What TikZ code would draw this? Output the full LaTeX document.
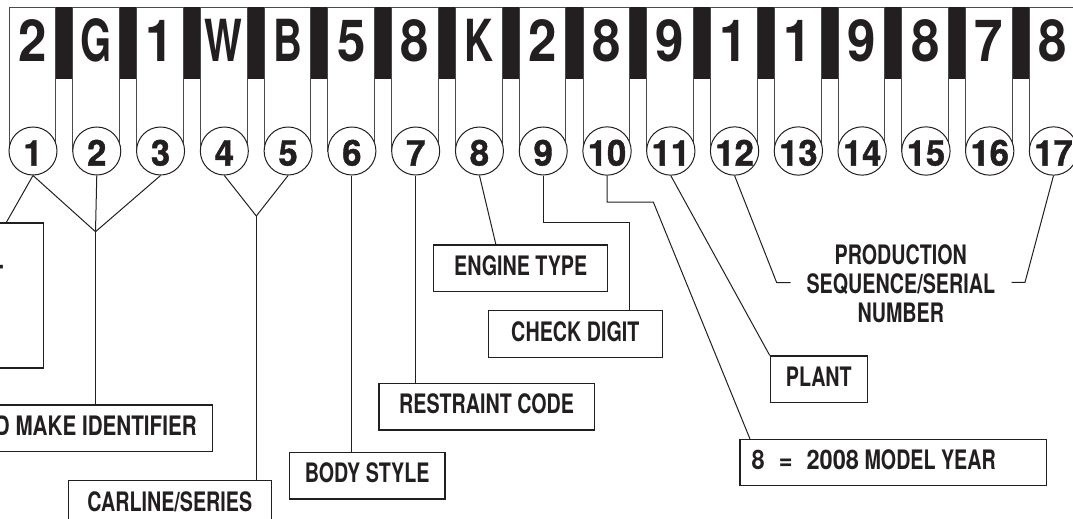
\documentclass[tikz,border=0pt]{standalone}
\usepackage{fontspec}
\newfontfamily\labfont{TeX Gyre Heros}[FakeStretch=0.735]
\newfontfamily\labwidefont{TeX Gyre Heros}[FakeStretch=0.77]
\newfontfamily\labdigfont{TeX Gyre Heros}[FakeStretch=0.88]
\newfontfamily\letfont{TeX Gyre Heros}[FakeStretch=0.69]
\newfontfamily\digfont{TeX Gyre Heros}[FakeStretch=0.88]
\newfontfamily\numfont{TeX Gyre Heros}[FakeStretch=0.97,FakeBold=1.2]
\definecolor{ink}{HTML}{231F20}
\definecolor{edge}{HTML}{4A4A4A}
\tikzset{
  band/.style={fill=ink},
  strip/.style={draw=edge, line width=0.9pt, fill=white},
  topd/.style={font=\digfont\bfseries\fontsize{58}{60}\selectfont, text=ink, inner sep=0pt},
  topl/.style={font=\letfont\bfseries\fontsize{58}{60}\selectfont, text=ink, inner sep=0pt},
  numc/.style={circle, draw=ink, line width=1pt, fill=white, minimum size=48pt, inner sep=0pt,
    font=\numfont\bfseries\fontsize{35.7}{36}\selectfont, text=ink, text height=29.2pt, text depth=0pt},
  lab/.style={font=\labfont\bfseries\fontsize{26.8}{29}\selectfont, text=ink},
  box/.style={draw=ink, line width=1.2pt, inner sep=0pt, minimum height=46.7pt, lab,
    text height=14.6pt, text depth=0pt},
  conn/.style={draw=ink, line width=1pt},
}
\begin{document}
\begin{tikzpicture}[x=1pt,y=-1pt]
\useasboundingbox (0,0) rectangle (1073,519);
\clip (0,0) rectangle (1073,519);
% black band
\fill[band] (9,7) rectangle (1120,79);
% strips, characters and circles
\foreach \ch/\t [count=\i] in {2/d,G/l,1/d,W/l,B/l,5/d,8/d,K/l,2/d,8/d,9/d,1/d,1/d,9/d,8/d,7/d,8/d} {
  \pgfmathsetmacro\xl{9+(\i-1)*63.78}
  \draw[strip] (\xl,7) rectangle ++(46.7,144);
  \node[top\t, anchor=base] (t\i) at (\xl+23.35,62) {\ch};
  \node[numc] (c\i) at (\xl+24,151) {\i};
}
% boxes
\node[box, minimum width=193.3pt, minimum height=145pt] (nat) at (-53.35,295.5) {};
\node[lab, anchor=base east, inner sep=0pt] (natdash) at (4,274) {-};
\node[box, minimum width=612.3pt] (mfr) at (-93.85,428.35)
  {\makebox[581.1pt][r]{\labwidefont\bfseries MANUFACTURER AND MAKE IDENTIFIER}};
\node[box, minimum width=203pt] (carl) at (169.8,504.05) {CARLINE/SERIES};
\node[box, minimum width=155.7pt] (body) at (367.15,475.65) {BODY STYLE};
\node[box, minimum width=215.3pt] (restr) at (486.65,406.65) {RESTRAINT CODE};
\node[box, minimum width=174pt] (engine) at (520.7,268.35) {ENGINE TYPE};
\node[box, minimum width=174pt] (check) at (575.3,333.8) {CHECK DIGIT};
\node[box, minimum width=97pt] (plant) at (818.8,379.35) {PLANT};
\node[box, minimum width=306.7pt] (myear) at (893.35,462.5)
  {\makebox[283.3pt][l]{{\labdigfont\bfseries 8}\hspace{14pt}{\labdigfont\bfseries =}\hspace{14pt}{\labdigfont\bfseries 2008} MODEL YEAR}};
\node[lab, anchor=base, inner sep=0pt] (prod1) at (900.8,264.5) {PRODUCTION};
\node[lab, anchor=base, inner sep=0pt] (prod2) at (900.8,293.5) {SEQUENCE/SERIAL};
\node[lab, anchor=base, inner sep=0pt] (prod3) at (900.8,322.3) {NUMBER};
% junction and bend coordinates
\coordinate (natP) at (6,223);
\coordinate (j1) at (95.5,231.7);
\coordinate (j2) at (256.3,216);
\coordinate (engP) at (496,245);
\coordinate (k9) at (629.3,222.3);
\coordinate (k10) at (653.3,202);
\coordinate (yrP) at (750,439);
\coordinate (pLk) at (776.7,282.7);
\coordinate (pL) at (790.7,282.7);
\coordinate (pRk) at (1025,282.3);
\coordinate (pR) at (1011.7,282.3);
% connectors
\draw[conn] (c1.south) -- (natP);
\draw[conn] (c1.south) -- (j1);
\draw[conn] (c2.south) -- (j1);
\draw[conn] (c3.south) -- (j1);
\draw[conn] (j1) -- (j1 |- mfr.north);
\draw[conn] (c4.south) -- (j2);
\draw[conn] (c5.south) -- (j2);
\draw[conn] (j2) -- (j2 |- carl.north);
\draw[conn] (c6.south) -- (c6.south |- body.north);
\draw[conn] (c7.south) -- (c7.south |- restr.north);
\draw[conn] (c8.south) -- (engP);
\draw[conn] (c9.south) |- (k9) -- (k9 |- check.north);
\draw[conn] (c10.south) |- (k10) -- (yrP);
\draw[conn] (c11.south) -- (plant.north west);
\draw[conn] (c12.south) -- (pLk) -- (pL);
\draw[conn] (c17.south) -- (pRk) -- (pR);
\end{tikzpicture}
\end{document}
